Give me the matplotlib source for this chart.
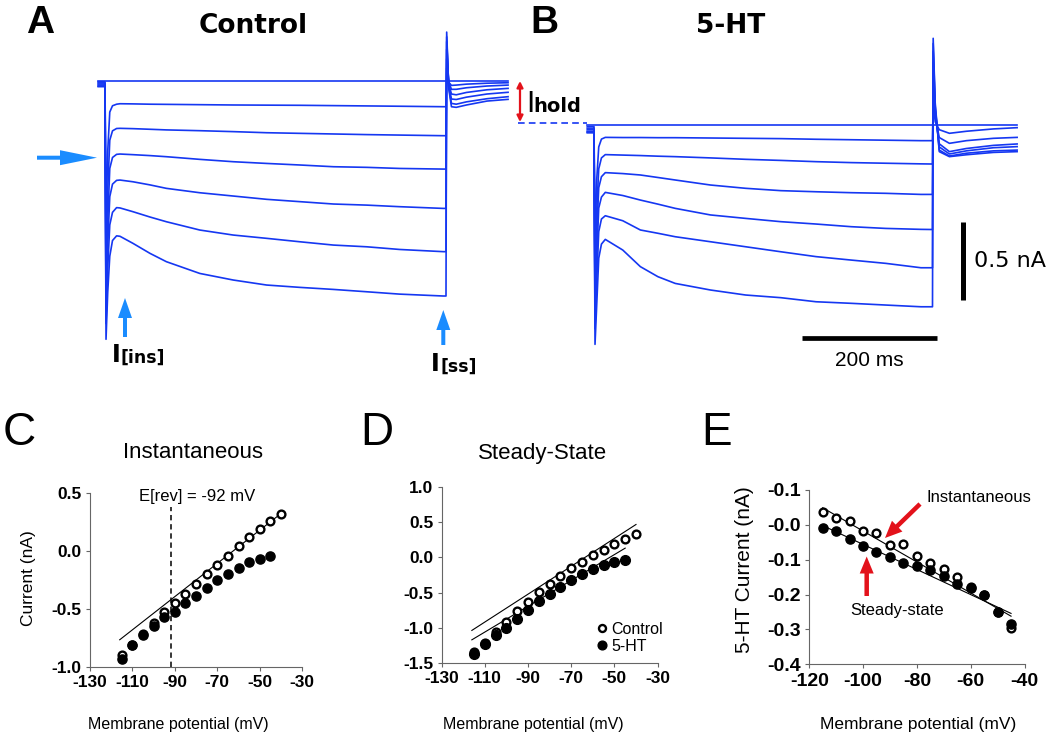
import matplotlib
matplotlib.use('Agg')
import matplotlib.pyplot as plt
from matplotlib.patches import FancyArrow

plt.rcParams['axes.unicode_minus'] = False
plt.rcParams['font.family'] = ['Liberation Sans', 'DejaVu Sans']

# ---------------- DATA ----------------
# Panel A (Control) voltage-clamp traces, time in ms, current in nA (relative to holding level)
ctrl_t = [-10, -0.5, 0, 1.5, 4, 7, 11, 17, 22, 41, 66, 90, 139, 188, 237, 286, 335, 384, 432, 496, 500,
          501, 504, 508, 515, 530, 560, 591]
ctrl_trace_1 = [0.0] * 28
ctrl_trace_2 = [-0.007, -0.007, -0.007, -0.90, -0.45, -0.20, -0.16, -0.150, -0.147, -0.148, -0.150, -0.151, -0.153, -0.155,
                -0.156, -0.157, -0.159, -0.161, -0.163, -0.166, -0.166, 0.08, -0.01, -0.030, -0.028, -0.022, -0.016, -0.013]
ctrl_trace_3 = [-0.014, -0.014, -0.014, -1.10, -0.70, -0.38, -0.32, -0.305, -0.304, -0.306, -0.310, -0.314, -0.319, -0.325,
                -0.332, -0.336, -0.340, -0.344, -0.347, -0.351, -0.351, 0.14, -0.01, -0.055, -0.055, -0.045, -0.034, -0.028]
ctrl_trace_4 = [-0.021, -0.021, -0.021, -1.30, -0.90, -0.56, -0.49, -0.470, -0.468, -0.472, -0.478, -0.485, -0.502, -0.517,
                -0.528, -0.538, -0.549, -0.553, -0.560, -0.564, -0.564, 0.20, -0.02, -0.085, -0.090, -0.075, -0.058, -0.049]
ctrl_trace_5 = [-0.028, -0.028, -0.028, -1.45, -1.05, -0.74, -0.66, -0.636, -0.634, -0.645, -0.665, -0.687, -0.715, -0.736,
                -0.757, -0.772, -0.787, -0.794, -0.804, -0.815, -0.815, 0.25, -0.03, -0.117, -0.120, -0.105, -0.085, -0.074]
ctrl_trace_6 = [-0.035, -0.035, -0.035, -1.55, -1.20, -0.92, -0.84, -0.810, -0.812, -0.836, -0.870, -0.900, -0.953, -0.985,
                -1.006, -1.028, -1.049, -1.060, -1.077, -1.091, -1.091, 0.28, -0.04, -0.145, -0.150, -0.135, -0.115, -0.102]
ctrl_trace_7 = [-0.038, -0.038, -0.038, -1.65, -1.35, -1.12, -1.02, -0.990, -0.993, -1.038, -1.102, -1.155, -1.230, -1.272,
                -1.304, -1.319, -1.332, -1.347, -1.362, -1.374, -1.374, 0.31, -0.05, -0.166, -0.170, -0.155, -0.130, -0.119]

# Panel B (5-HT) traces
ht_t = [-10, -0.5, 0, 1.5, 4, 7, 11, 16.7, 42.5, 68.5, 94.4, 120, 172, 224, 276, 328, 380, 431, 483, 500,
        501, 504, 510, 525, 550, 590, 625]
ht_trace_1 = [0.0] * 27
ht_trace_2 = [-0.01, -0.01, -0.01, -0.75, -0.35, -0.14, -0.09, -0.079, -0.080, -0.080, -0.081, -0.081, -0.083, -0.085,
              -0.087, -0.091, -0.094, -0.097, -0.100, -0.100, 0.15, 0.02, -0.03, -0.053, -0.040, -0.025, -0.017]
ht_trace_3 = [-0.02, -0.02, -0.02, -0.95, -0.55, -0.28, -0.21, -0.189, -0.192, -0.195, -0.199, -0.202, -0.210, -0.219,
              -0.226, -0.234, -0.240, -0.244, -0.248, -0.249, 0.30, 0.05, -0.08, -0.117, -0.100, -0.085, -0.079]
ht_trace_4 = [-0.03, -0.03, -0.03, -1.10, -0.70, -0.40, -0.33, -0.304, -0.310, -0.319, -0.335, -0.351, -0.383, -0.404,
              -0.419, -0.426, -0.432, -0.436, -0.443, -0.443, 0.40, 0.08, -0.12, -0.170, -0.150, -0.130, -0.121]
ht_trace_5 = [-0.04, -0.04, -0.04, -1.20, -0.85, -0.53, -0.46, -0.430, -0.450, -0.479, -0.505, -0.532, -0.574, -0.596,
              -0.617, -0.632, -0.649, -0.660, -0.666, -0.667, 0.47, 0.10, -0.14, -0.185, -0.165, -0.145, -0.138]
ht_trace_6 = [-0.045, -0.045, -0.045, -1.30, -1.00, -0.68, -0.60, -0.579, -0.611, -0.670, -0.691, -0.713, -0.745, -0.777,
              -0.809, -0.840, -0.862, -0.883, -0.911, -0.911, 0.52, 0.12, -0.16, -0.198, -0.180, -0.165, -0.160]
ht_trace_7 = [-0.05, -0.05, -0.05, -1.40, -1.15, -0.85, -0.76, -0.730, -0.798, -0.904, -0.968, -1.011, -1.053, -1.085,
              -1.102, -1.128, -1.138, -1.149, -1.160, -1.160, 0.553, 0.14, -0.17, -0.202, -0.190, -0.175, -0.170]
hold_line_t = [-112, -10]
hold_line_i = [0.01, 0.01]

# Scale bars (panel B)
bar_time_ms = 200
bar_current_na = 0.5

# Panels C-E: I-V data
v_ctrl = [-115, -110, -105, -100, -95, -90, -85, -80, -75, -70, -65, -60, -55, -50, -45, -40]
v_ht = [-115, -110, -105, -100, -95, -90, -85, -80, -75, -70, -65, -60, -55, -50, -45]

inst_ctrl = [-0.897, -0.810, -0.718, -0.618, -0.529, -0.451, -0.374, -0.287, -0.201, -0.121, -0.043, 0.043,
             0.118, 0.195, 0.259, 0.325]
inst_ht = [-0.934, -0.816, -0.724, -0.647, -0.572, -0.523, -0.451, -0.388, -0.322, -0.250, -0.201, -0.144,
           -0.098, -0.069, -0.043]
inst_fit_v = [-116, -40]
inst_fit_i = [-0.767, 0.325]
e_rev = -92

ss_ctrl = [-1.350, -1.217, -1.065, -0.913, -0.770, -0.637, -0.494, -0.375, -0.266, -0.152, -0.067, 0.029,
           0.109, 0.195, 0.266, 0.328]
ss_ht = [-1.383, -1.240, -1.112, -1.008, -0.875, -0.746, -0.627, -0.518, -0.423, -0.318, -0.242, -0.171,
         -0.114, -0.067, -0.033]
ss_fit_ctrl_v = [-116, -40]
ss_fit_ctrl_i = [-1.04, 0.47]
ss_fit_ht_v = [-116, -45]
ss_fit_ht_i = [-1.174, 0.133]

diff_inst = [0.038, 0.019, 0.012, -0.018, -0.023, -0.057, -0.054, -0.088, -0.110, -0.126, -0.151, -0.178,
             -0.200, -0.250, -0.297]
diff_ss = [-0.010, -0.019, -0.040, -0.062, -0.078, -0.092, -0.109, -0.118, -0.130, -0.147, -0.170, -0.181,
           -0.202, -0.250, -0.283]
diff_fit_v = [-115, -45]
diff_fit_inst = [0.049, -0.262]
diff_fit_ss = [-0.002, -0.254]

iv_xticks_c = [-130, -110, -90, -70, -50, -30]
iv_yticks_c = [-1.0, -0.5, 0.0, 0.5]
iv_yticks_d = [-1.5, -1.0, -0.5, 0.0, 0.5, 1.0]
e_xticks = [-120, -100, -80, -60, -40]
e_yticks = [-0.4, -0.3, -0.2, -0.1, 0.0, 0.1]
e_ytick_labels = ['-0.4', '-0.3', '-0.2', '-0.1', '-0.0', '-0.1']

# ---------------- FIGURE ----------------
W, H = 1050, 734
fig = plt.figure(figsize=(10.5, 7.34), dpi=100)
trace_blue = '#1537f2'
arrow_blue = '#1a8cff'
red = '#e3121b'
spine_col = '#666666'


def px_axes(x0, y0, x1, y1, **kw):
    return fig.add_axes([x0 / W, 1 - y1 / H, (x1 - x0) / W, (y1 - y0) / H], **kw)


def trace_axes(x0, y0, x1, y1, x_t0, px_ms, y_i0, px_na):
    ax = px_axes(x0, y0, x1, y1)
    ax.set_xlim((x0 - x_t0) / px_ms, (x1 - x_t0) / px_ms)
    ax.set_ylim((y_i0 - y1) / px_na, (y_i0 - y0) / px_na)
    ax.axis('off')
    return ax


axA = trace_axes(60, 20, 520, 390, 105, 0.682, 80.7, 156.7)
axB = trace_axes(505, 20, 1050, 390, 594, 0.677, 125, 156.7)

for tr in [ctrl_trace_1, ctrl_trace_2, ctrl_trace_3, ctrl_trace_4, ctrl_trace_5, ctrl_trace_6, ctrl_trace_7]:
    axA.plot(ctrl_t, tr, color=trace_blue, lw=1.2, solid_joinstyle='round')
for tr in [ht_trace_1, ht_trace_2, ht_trace_3, ht_trace_4, ht_trace_5, ht_trace_6, ht_trace_7]:
    axB.plot(ht_t, tr, color=trace_blue, lw=1.2, solid_joinstyle='round')
axB.plot(hold_line_t, hold_line_i, color=trace_blue, lw=1.2, dashes=(4, 2.5))

# scale bars
bar_t0 = 307
bar_y = -1.361
axB.plot([bar_t0, bar_t0 + bar_time_ms], [bar_y, bar_y], color='black', lw=3.4, solid_capstyle='butt')
axB.text(bar_t0 + bar_time_ms / 2, -1.50, '200 ms', ha='center', va='center', fontsize=15)
vb_t = 544.6
vb_top = -0.617
axB.plot([vb_t, vb_t], [vb_top, vb_top - bar_current_na], color='black', lw=3.6, solid_capstyle='butt')
axB.text(562, vb_top - bar_current_na / 2, '0.5 nA', ha='left', va='center', fontsize=16,
         family='DejaVu Sans')


def style_iv(ax, fs):
    for s in ['top', 'right']:
        ax.spines[s].set_visible(False)
    for s in ['left', 'bottom']:
        ax.spines[s].set_color(spine_col)
        ax.spines[s].set_linewidth(0.8)
    ax.tick_params(length=3, width=0.8, color=spine_col, labelsize=fs, pad=3)
    for lab in ax.get_xticklabels() + ax.get_yticklabels():
        lab.set_fontweight('bold')


# Panel C
axC = px_axes(90, 493.3, 302.2, 666.7)
axC.plot(inst_fit_v, inst_fit_i, color='black', lw=0.8)
axC.plot([e_rev, e_rev], [-1.0, 0.38], color='black', lw=1.1, dashes=(3.5, 2.5))
axC.plot(v_ctrl, inst_ctrl, 'o', ms=5.6, mfc='white', mec='black', mew=1.7, ls='none')
axC.plot(v_ht, inst_ht, 'o', ms=6.6, color='black', ls='none')
axC.set_xlim(-130, -30)
axC.set_ylim(-1.0, 0.5)
axC.set_xticks(iv_xticks_c)
axC.set_yticks(iv_yticks_c)
axC.yaxis.set_major_formatter(matplotlib.ticker.FormatStrFormatter('%.1f'))
style_iv(axC, 12.5)
axC.text(-79.5, 0.47, 'E[rev] = -92 mV', ha='center', va='center', fontsize=12)

# Panel D
axD = px_axes(441.6, 487.3, 657.6, 662.7)
axD.plot(ss_fit_ctrl_v, ss_fit_ctrl_i, color='black', lw=0.8)
axD.plot(ss_fit_ht_v, ss_fit_ht_i, color='black', lw=0.8)
hc, = axD.plot(v_ctrl, ss_ctrl, 'o', ms=5.6, mfc='white', mec='black', mew=1.7, ls='none', label='Control')
hh, = axD.plot(v_ht, ss_ht, 'o', ms=7, color='black', ls='none', label='5-HT')
axD.set_xlim(-130, -30)
axD.set_ylim(-1.5, 1.0)
axD.set_xticks(iv_xticks_c)
axD.set_yticks(iv_yticks_d)
axD.yaxis.set_major_formatter(matplotlib.ticker.FormatStrFormatter('%.1f'))
style_iv(axD, 12.5)
axD.legend(handles=[hc, hh], loc='lower left', bbox_to_anchor=(597 / W, 1 - 654 / H),
           bbox_transform=fig.transFigure, frameon=False, fontsize=11.5, handlelength=0.6,
           handletextpad=0.3, borderpad=0, borderaxespad=0, labelspacing=0.15, markerscale=0.9)

# Panel E
axE = px_axes(809.2, 490, 1024.5, 664.3)
axE.plot(diff_fit_v, diff_fit_inst, color='black', lw=0.8)
axE.plot(diff_fit_v, diff_fit_ss, color='black', lw=0.8)
axE.plot(v_ht, diff_inst, 'o', ms=5.6, mfc='white', mec='black', mew=1.7, ls='none')
axE.plot(v_ht, diff_ss, 'o', ms=6.6, color='black', ls='none')
axE.set_xlim(-120, -40)
axE.set_ylim(-0.4, 0.1)
axE.set_xticks(e_xticks)
axE.set_yticks(e_yticks)
axE.set_yticklabels(e_ytick_labels)
style_iv(axE, 14)

# ---------------- Overlay annotations (figure pixel coordinates) ----------------
ov = fig.add_axes([0, 0, 1, 1])
ov.set_xlim(0, W)
ov.set_ylim(H, 0)
ov.axis('off')

ov.text(40, 23, 'A', ha='center', va='center', fontsize=28, fontweight='bold')
ov.text(544, 23, 'B', ha='center', va='center', fontsize=28, fontweight='bold')
ov.text(253, 26, 'Control', ha='center', va='center', fontsize=19, fontweight='bold', family='DejaVu Sans')
ov.text(731, 26, '5-HT', ha='center', va='center', fontsize=19, fontweight='bold', family='DejaVu Sans')
ov.text(19, 433, 'C', ha='center', va='center', fontsize=33)
ov.text(377, 433, 'D', ha='center', va='center', fontsize=33)
ov.text(717, 433, 'E', ha='center', va='center', fontsize=33)

ov.text(193, 453, 'Instantaneous', ha='center', va='center', fontsize=16)
ov.text(543, 453, 'Steady-State', ha='center', va='center', fontsize=16)
ov.text(178, 725, 'Membrane potential (mV)', ha='center', va='center', fontsize=11.5)
ov.text(533, 725, 'Membrane potential (mV)', ha='center', va='center', fontsize=11.5)
ov.text(918, 725, 'Membrane potential (mV)', ha='center', va='center', fontsize=12.5)
ov.text(28, 578, 'Current (nA)', ha='center', va='center', fontsize=12.5, rotation=90)
ov.text(745, 570, '5-HT Current (nA)', ha='center', va='center', fontsize=15, rotation=90)

# I labels
ov.text(112, 362, 'I', ha='left', va='baseline', fontsize=17, fontweight='bold', family='DejaVu Sans')
ov.text(120, 363, '[ins]', ha='left', va='baseline', fontsize=12.5, fontweight='bold', family='DejaVu Sans')
ov.text(431, 371, 'I', ha='left', va='baseline', fontsize=17, fontweight='bold', family='DejaVu Sans')
ov.text(440, 372, '[ss]', ha='left', va='baseline', fontsize=12.5, fontweight='bold', family='DejaVu Sans')
ov.text(526, 112, 'I', ha='left', va='baseline', fontsize=20, family='DejaVu Sans')
ov.text(533, 112, 'hold', ha='left', va='baseline', fontsize=14, fontweight='bold', family='DejaVu Sans')

# blue arrows
ov.add_patch(FancyArrow(37, 157.7, 60, 0, width=4, head_width=15, head_length=37,
                        length_includes_head=True, color=arrow_blue, lw=0))
ov.add_patch(FancyArrow(125, 337, 0, -39, width=4, head_width=14, head_length=20,
                        length_includes_head=True, color=arrow_blue, lw=0))
ov.add_patch(FancyArrow(443.3, 345, 0, -35, width=4, head_width=14, head_length=20,
                        length_includes_head=True, color=arrow_blue, lw=0))
# red arrows
ov.annotate('', xy=(520, 81), xytext=(520, 122),
            arrowprops=dict(arrowstyle='<|-|>', color=red, lw=1.6, mutation_scale=9, shrinkA=0, shrinkB=0))
ov.add_patch(FancyArrow(920, 504, -35, 34, width=4.5, head_width=15, head_length=17,
                        length_includes_head=True, color=red, lw=0))
ov.add_patch(FancyArrow(866.7, 596, 0, -39.5, width=4.5, head_width=14, head_length=17,
                        length_includes_head=True, color=red, lw=0))
ov.text(927, 498, 'Instantaneous', ha='left', va='center', fontsize=12)
ov.text(897, 610, 'Steady-state', ha='center', va='center', fontsize=12)

fig.savefig('out.png', dpi=100)
